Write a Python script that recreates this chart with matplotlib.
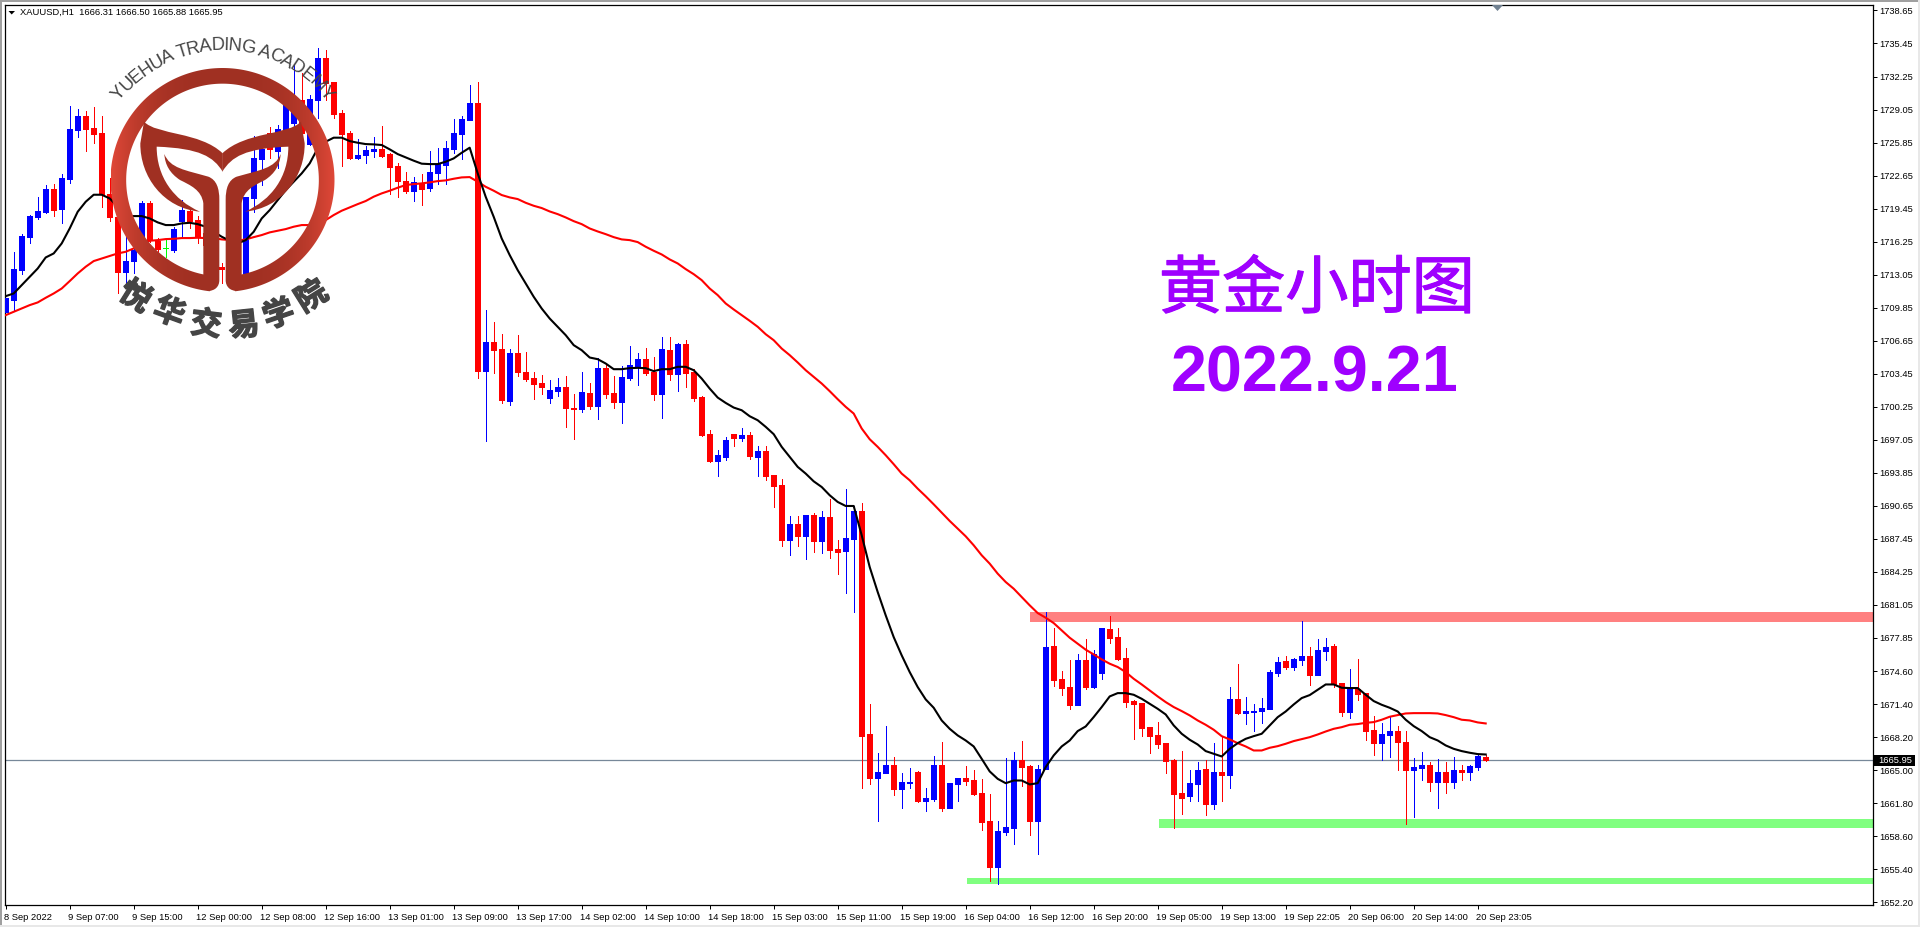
import numpy as np
import matplotlib
matplotlib.use("Agg")
import matplotlib.pyplot as plt
import matplotlib.patheffects as pe
from matplotlib.patches import PathPatch, Rectangle, Polygon
from matplotlib.path import Path
from matplotlib.textpath import TextPath
from matplotlib.font_manager import FontProperties
from matplotlib.transforms import ScaledTranslation

# XAUUSD H1 candles
opens = [
    1709.44, 1710.57, 1713.48, 1716.65, 1718.59, 1719.14, 1721.31, 1719.40, 1722.31, 1727.06,
    1728.42, 1727.26, 1726.77, 1720.82, 1718.66, 1713.32, 1714.39, 1715.42, 1720.01, 1716.33,
    1715.58, 1715.42, 1718.24, 1719.21, 1718.33, 1717.04, 1715.81, 1713.74, 1713.55, 1714.29,
    1713.16, 1720.43, 1724.25, 1726.74, 1725.06, 1727.06, 1727.71, 1729.97, 1725.70, 1729.97,
    1734.04, 1731.75, 1728.68, 1726.74, 1724.38, 1724.64, 1725.02, 1725.22, 1724.73, 1723.57,
    1722.08, 1721.18, 1721.89, 1721.40, 1722.92, 1723.67, 1725.22, 1726.67, 1728.03, 1729.68,
    1703.69, 1706.47, 1705.82, 1700.78, 1705.43, 1703.59, 1703.01, 1702.52, 1701.07, 1701.75,
    1702.13, 1700.10, 1700.00, 1701.55, 1700.29, 1703.98, 1701.55, 1700.68, 1703.01, 1704.17,
    1704.85, 1703.59, 1701.46, 1705.72, 1703.40, 1706.30, 1703.59, 1701.16, 1697.58, 1694.96,
    1695.35, 1697.58, 1697.19, 1697.48, 1695.35, 1695.93, 1693.60, 1692.63, 1687.29, 1688.84,
    1687.68, 1689.72, 1687.19, 1689.52, 1686.42, 1686.22, 1687.39, 1690.10, 1668.47, 1664.30,
    1664.69, 1665.56, 1663.14, 1663.72, 1664.79, 1662.07, 1662.17, 1665.47, 1661.39, 1663.63,
    1664.30, 1664.01, 1662.75, 1660.04, 1655.58, 1658.97, 1659.45, 1665.95, 1665.37, 1660.13,
    1665.08, 1677.01, 1673.81, 1673.03, 1671.29, 1675.65, 1673.03, 1674.39, 1678.66, 1677.88,
    1675.85, 1671.68, 1671.48, 1669.15, 1668.38, 1667.60, 1665.95, 1662.75, 1662.46, 1663.63,
    1665.08, 1661.78, 1664.88, 1664.50, 1671.87, 1670.51, 1670.64, 1670.70, 1670.90, 1674.39,
    1675.55, 1674.97, 1675.65, 1676.04, 1674.20, 1676.52, 1677.01, 1673.42, 1670.61, 1672.84,
    1672.45, 1668.86, 1667.60, 1668.38, 1668.76, 1667.79, 1664.98, 1665.18, 1665.47, 1663.82,
    1664.88, 1663.82, 1664.98, 1664.79, 1665.27, 1666.31,
]
highs = [
    1710.74, 1715.20, 1716.97, 1718.82, 1720.53, 1721.69, 1721.79, 1722.79, 1729.39, 1729.10,
    1728.94, 1729.29, 1728.42, 1722.37, 1718.66, 1717.04, 1715.75, 1720.18, 1720.18, 1716.55,
    1716.39, 1717.69, 1720.27, 1719.30, 1718.72, 1717.36, 1716.07, 1714.13, 1716.39, 1717.04,
    1720.60, 1726.48, 1726.09, 1727.38, 1727.55, 1729.97, 1733.37, 1732.56, 1730.46, 1734.98,
    1734.82, 1731.75, 1729.00, 1726.96, 1726.16, 1725.51, 1726.41, 1727.45, 1724.80, 1723.83,
    1722.99, 1722.54, 1722.79, 1725.06, 1725.28, 1725.99, 1728.10, 1728.42, 1731.43, 1731.72,
    1709.60, 1708.44, 1707.27, 1705.82, 1707.18, 1705.53, 1703.59, 1703.30, 1702.81, 1703.01,
    1703.20, 1701.46, 1703.59, 1702.52, 1705.01, 1704.37, 1703.20, 1704.17, 1706.11, 1705.43,
    1705.92, 1705.04, 1706.98, 1706.98, 1706.40, 1706.69, 1703.88, 1701.26, 1697.96, 1696.02,
    1697.28, 1697.58, 1698.16, 1697.77, 1696.41, 1696.41, 1693.60, 1693.21, 1689.62, 1689.62,
    1689.72, 1689.91, 1690.10, 1691.27, 1687.29, 1692.24, 1690.59, 1690.88, 1671.38, 1666.63,
    1669.25, 1666.24, 1664.69, 1665.18, 1664.89, 1663.24, 1666.34, 1667.70, 1663.72, 1664.30,
    1665.37, 1664.98, 1664.11, 1662.66, 1660.04, 1666.15, 1666.73, 1667.80, 1665.47, 1665.56,
    1680.31, 1678.76, 1674.58, 1675.65, 1676.23, 1677.69, 1676.62, 1678.76, 1679.92, 1678.76,
    1676.82, 1671.77, 1671.48, 1669.15, 1669.64, 1667.60, 1666.05, 1666.83, 1664.98, 1665.76,
    1665.95, 1667.60, 1668.18, 1673.03, 1675.26, 1672.06, 1671.38, 1671.96, 1674.68, 1675.94,
    1676.04, 1675.84, 1679.43, 1676.91, 1677.69, 1677.78, 1677.20, 1673.42, 1674.78, 1675.75,
    1672.45, 1670.22, 1669.54, 1670.12, 1669.25, 1668.76, 1666.15, 1666.82, 1665.76, 1666.05,
    1665.76, 1666.24, 1665.56, 1665.47, 1666.44, 1666.50,
]
lows = [
    1709.44, 1709.60, 1713.09, 1716.13, 1718.40, 1718.98, 1718.72, 1718.07, 1721.95, 1726.41,
    1725.06, 1725.77, 1719.63, 1718.27, 1711.28, 1712.13, 1713.16, 1715.10, 1716.23, 1715.10,
    1714.71, 1715.26, 1716.65, 1717.52, 1716.13, 1715.42, 1713.81, 1712.19, 1712.84, 1713.81,
    1713.00, 1719.14, 1721.73, 1724.31, 1723.34, 1726.90, 1727.38, 1725.77, 1725.61, 1728.26,
    1729.97, 1728.19, 1723.60, 1724.22, 1724.28, 1723.89, 1724.47, 1724.41, 1720.82, 1720.60,
    1720.92, 1720.18, 1719.79, 1721.18, 1721.82, 1721.79, 1724.86, 1724.22, 1728.03, 1703.04,
    1696.93, 1703.52, 1700.61, 1700.42, 1703.20, 1702.75, 1700.97, 1701.46, 1700.61, 1701.29,
    1698.29, 1697.12, 1699.74, 1700.03, 1699.06, 1701.10, 1700.13, 1698.67, 1702.81, 1702.33,
    1703.30, 1700.87, 1699.16, 1702.81, 1701.78, 1702.13, 1700.78, 1697.38, 1694.86, 1693.50,
    1695.05, 1696.41, 1696.90, 1695.15, 1693.50, 1693.11, 1690.52, 1686.74, 1685.84, 1686.71,
    1685.45, 1686.13, 1686.03, 1685.54, 1683.99, 1682.15, 1680.31, 1663.33, 1663.63, 1660.13,
    1664.69, 1662.56, 1661.30, 1663.24, 1661.88, 1661.10, 1662.07, 1661.01, 1661.39, 1662.07,
    1663.53, 1662.56, 1659.26, 1654.22, 1654.02, 1658.68, 1657.90, 1663.43, 1658.68, 1656.93,
    1665.08, 1673.13, 1672.26, 1670.90, 1671.29, 1672.84, 1672.94, 1673.81, 1677.30, 1675.65,
    1671.09, 1667.99, 1668.28, 1666.63, 1667.12, 1664.69, 1659.45, 1660.81, 1662.07, 1661.98,
    1660.62, 1661.20, 1662.07, 1663.24, 1670.41, 1669.44, 1668.76, 1669.54, 1670.90, 1674.10,
    1674.78, 1674.68, 1675.17, 1673.23, 1674.20, 1675.65, 1673.03, 1670.22, 1670.03, 1671.77,
    1667.89, 1666.44, 1665.95, 1666.24, 1664.98, 1659.84, 1660.52, 1664.01, 1663.04, 1661.39,
    1662.75, 1663.33, 1664.01, 1664.01, 1664.98, 1665.88,
]
closes = [
    1710.74, 1713.55, 1716.78, 1718.72, 1719.21, 1721.31, 1719.30, 1722.41, 1727.13, 1728.42,
    1727.13, 1726.67, 1720.82, 1718.66, 1713.32, 1714.36, 1715.42, 1720.01, 1716.39, 1715.49,
    1715.58, 1717.46, 1719.30, 1718.27, 1716.81, 1715.91, 1714.45, 1713.55, 1714.45, 1716.07,
    1720.60, 1724.31, 1725.19, 1725.19, 1727.16, 1729.49, 1729.97, 1726.74, 1730.07, 1734.04,
    1731.65, 1728.61, 1726.67, 1724.38, 1724.64, 1725.12, 1725.22, 1724.54, 1723.50, 1722.15,
    1721.18, 1721.99, 1721.34, 1722.99, 1723.76, 1725.28, 1726.74, 1728.10, 1729.65, 1703.69,
    1706.47, 1705.72, 1700.87, 1705.43, 1703.59, 1702.91, 1702.43, 1702.13, 1701.84, 1702.13,
    1700.10, 1700.00, 1701.65, 1700.29, 1703.98, 1701.46, 1700.68, 1703.10, 1704.27, 1704.85,
    1703.49, 1701.46, 1705.82, 1703.40, 1706.30, 1703.49, 1701.07, 1697.48, 1694.96, 1695.54,
    1696.99, 1697.19, 1697.48, 1695.44, 1695.93, 1693.50, 1692.53, 1687.29, 1688.84, 1687.68,
    1689.72, 1687.19, 1689.52, 1686.32, 1686.13, 1687.48, 1690.10, 1668.28, 1664.30, 1664.79,
    1665.56, 1663.14, 1663.82, 1663.82, 1662.07, 1662.27, 1665.56, 1661.39, 1663.72, 1664.30,
    1663.92, 1662.66, 1659.94, 1655.58, 1659.07, 1659.55, 1665.95, 1665.27, 1660.13, 1665.08,
    1676.91, 1673.71, 1672.94, 1671.29, 1675.65, 1673.03, 1676.23, 1678.76, 1677.79, 1675.75,
    1671.58, 1671.38, 1669.06, 1668.28, 1667.50, 1665.86, 1662.66, 1662.36, 1663.72, 1664.98,
    1661.78, 1664.79, 1664.50, 1671.87, 1670.51, 1670.70, 1670.70, 1671.00, 1674.49, 1675.46,
    1674.97, 1675.75, 1676.04, 1674.20, 1676.62, 1676.91, 1673.32, 1670.61, 1672.93, 1672.35,
    1668.76, 1667.60, 1668.47, 1668.76, 1667.70, 1664.98, 1665.27, 1665.47, 1663.82, 1664.88,
    1663.82, 1664.98, 1664.79, 1665.37, 1666.34, 1665.95,
]

# Moving averages, one value per candle
ma_black = [
    1710.96, 1711.22, 1712.03, 1712.84, 1713.64, 1714.71, 1715.10, 1716.07, 1717.52, 1719.14,
    1720.11, 1720.79, 1720.79, 1720.43, 1719.63, 1718.66, 1718.72, 1718.72, 1718.49, 1718.11,
    1717.85, 1717.85, 1718.01, 1718.07, 1717.94, 1717.69, 1717.20, 1716.72, 1716.33, 1716.07,
    1716.39, 1717.20, 1718.49, 1719.30, 1720.27, 1721.24, 1722.05, 1722.86, 1723.83, 1725.28,
    1725.93, 1726.32, 1726.32, 1725.99, 1725.83, 1725.70, 1725.67, 1725.61, 1725.19, 1724.73,
    1724.41, 1724.09, 1723.80, 1723.76, 1723.76, 1723.99, 1724.31, 1724.86, 1725.35, 1722.86,
    1720.59, 1718.65, 1716.55, 1714.94, 1713.48, 1712.19, 1710.90, 1709.76, 1708.79, 1707.99,
    1707.18, 1706.21, 1705.72, 1705.01, 1704.85, 1704.43, 1703.88, 1703.88, 1703.98, 1704.01,
    1703.98, 1703.69, 1703.88, 1703.88, 1704.11, 1704.11, 1703.78, 1702.97, 1702.00, 1701.13,
    1700.61, 1700.16, 1699.90, 1699.32, 1698.93, 1698.29, 1697.58, 1696.35, 1695.38, 1694.41,
    1693.76, 1693.01, 1692.46, 1691.66, 1691.01, 1690.62, 1690.62, 1687.78, 1684.70, 1682.28,
    1680.02, 1677.91, 1676.14, 1674.52, 1673.07, 1671.87, 1671.06, 1669.83, 1669.02, 1668.38,
    1667.89, 1667.31, 1666.11, 1664.89, 1664.17, 1663.75, 1664.01, 1664.01, 1663.63, 1663.75,
    1665.31, 1666.44, 1667.31, 1667.89, 1668.80, 1669.25, 1670.16, 1671.13, 1672.16, 1672.48,
    1672.48, 1672.32, 1671.93, 1671.45, 1670.96, 1670.41, 1669.35, 1668.54, 1667.96, 1667.50,
    1666.86, 1666.60, 1666.34, 1667.08, 1667.63, 1668.05, 1668.31, 1668.54, 1669.35, 1670.15,
    1670.70, 1671.38, 1672.00, 1672.29, 1672.81, 1673.32, 1673.32, 1673.00, 1672.97, 1672.97,
    1672.32, 1671.71, 1671.35, 1671.06, 1670.70, 1669.90, 1669.28, 1668.80, 1668.21, 1667.89,
    1667.41, 1667.08, 1666.86, 1666.70, 1666.57, 1666.53,
]
ma_red = [
    1709.12, 1709.44, 1709.76, 1710.09, 1710.35, 1710.80, 1711.22, 1711.70, 1712.42, 1713.16,
    1713.81, 1714.36, 1714.61, 1714.87, 1715.10, 1715.26, 1715.58, 1715.91, 1716.33, 1716.39,
    1716.49, 1716.52, 1716.59, 1716.59, 1716.62, 1716.59, 1716.59, 1716.46, 1716.39, 1716.33,
    1716.46, 1716.68, 1716.88, 1717.14, 1717.30, 1717.46, 1717.69, 1717.85, 1717.85, 1718.01,
    1718.33, 1718.82, 1719.24, 1719.56, 1719.88, 1720.18, 1720.60, 1720.92, 1721.18, 1721.47,
    1721.73, 1721.82, 1721.89, 1721.99, 1722.11, 1722.18, 1722.34, 1722.47, 1722.50, 1722.05,
    1721.56, 1721.18, 1720.76, 1720.53, 1720.37, 1720.01, 1719.72, 1719.50, 1719.17, 1718.91,
    1718.59, 1718.23, 1717.94, 1717.52, 1717.23, 1716.97, 1716.68, 1716.46, 1716.39, 1716.20,
    1715.75, 1715.36, 1715.00, 1714.52, 1714.13, 1713.58, 1713.09, 1712.51, 1711.70, 1711.06,
    1710.25, 1709.67, 1709.12, 1708.57, 1707.99, 1707.27, 1706.69, 1705.88, 1705.24, 1704.53,
    1703.78, 1703.14, 1702.49, 1701.75, 1700.97, 1700.23, 1699.58, 1698.13, 1697.09, 1696.35,
    1695.54, 1694.67, 1693.76, 1693.11, 1692.30, 1691.56, 1690.78, 1689.97, 1689.17, 1688.42,
    1687.68, 1686.81, 1685.84, 1685.03, 1684.06, 1683.25, 1682.60, 1681.79, 1680.99, 1680.24,
    1679.79, 1679.27, 1678.56, 1677.85, 1677.27, 1676.69, 1676.23, 1675.75, 1675.33, 1675.01,
    1674.52, 1673.87, 1673.32, 1672.74, 1672.16, 1671.61, 1671.13, 1670.74, 1670.32, 1669.83,
    1669.41, 1668.93, 1668.31, 1667.99, 1667.63, 1667.31, 1666.92, 1666.92, 1667.18, 1667.34,
    1667.57, 1667.83, 1668.02, 1668.21, 1668.47, 1668.76, 1669.02, 1669.18, 1669.41, 1669.48,
    1669.60, 1669.67, 1669.90, 1670.19, 1670.35, 1670.51, 1670.54, 1670.54, 1670.54, 1670.51,
    1670.35, 1670.15, 1669.90, 1669.83, 1669.64, 1669.54,
]

price_ticks = [1738.65, 1735.45, 1732.25, 1729.05, 1725.85, 1722.65, 1719.45, 1716.25, 1713.05,
               1709.85, 1706.65, 1703.45, 1700.25, 1697.05, 1693.85, 1690.65, 1687.45, 1684.25,
               1681.05, 1677.85, 1674.60, 1671.40, 1668.20, 1665.00, 1661.80, 1658.60, 1655.40,
               1652.20]
time_labels = ["8 Sep 2022", "9 Sep 07:00", "9 Sep 15:00", "12 Sep 00:00", "12 Sep 08:00",
               "12 Sep 16:00", "13 Sep 01:00", "13 Sep 09:00", "13 Sep 17:00", "14 Sep 02:00",
               "14 Sep 10:00", "14 Sep 18:00", "15 Sep 03:00", "15 Sep 11:00", "15 Sep 19:00",
               "16 Sep 04:00", "16 Sep 12:00", "16 Sep 20:00", "19 Sep 05:00", "19 Sep 13:00",
               "19 Sep 22:05", "20 Sep 06:00", "20 Sep 14:00", "20 Sep 23:05"]
last_price = 1665.95

# support / resistance bands: first candle, price low, price high
band_start = [128, 144.1, 120.2]
band_low = [1679.34, 1659.36, 1654.02]
band_high = [1680.31, 1660.23, 1654.60]
band_color = ["#FF8080", "#80FF80", "#80FF80"]

W, H = 1920, 927
UI_FONT = "Liberation Sans"
UI_SIZE = 6.75
CJK = ["Noto Sans CJK SC", "DejaVu Sans"]
TITLE_COLOR = "#9F00FF"
LOGO_DARK = "#A03022"
LOGO_TEXT = "#454545"

fig = plt.figure(figsize=(W / 100, H / 100), dpi=100, facecolor="white")

# main chart, one candle is 8 px wide
ax = fig.add_axes([4.5 / W, 1 - 904.5 / H, (1872.5 - 4.5) / W, (904.5 - 4.5) / H])
ax.set_xlim(-0.15, 233.35)
ax.set_ylim(1651.99, 1739.23)

x = np.arange(len(opens))
o = np.array(opens)
c = np.array(closes)
colors = np.where(c > o, "#0000FF", "#FF0000").tolist()
colors = ["#00FF00" if a == b else col for a, b, col in zip(opens, closes, colors)]

for s, lo, hi, col in zip(band_start, band_low, band_high, band_color):
    ax.add_patch(Rectangle((s, lo), 240 - s, hi - lo, color=col, lw=0, zorder=1))

ax.axhline(last_price, color="#778899", lw=0.9, zorder=2)
ax.vlines(x, lows, highs, colors=colors, lw=0.55, antialiased=False, zorder=3)
ax.bar(x, np.abs(c - o), bottom=np.minimum(c, o), width=0.56, color=colors, edgecolor=colors,
       lw=0.5, antialiased=False, zorder=4)
ax.plot(x, ma_red, color="#FF0000", lw=1.5, zorder=5)
ax.plot(x, ma_black, color="#000000", lw=1.5, zorder=6)

for side in ax.spines.values():
    side.set_linewidth(0.9)

ax.yaxis.tick_right()
ax.set_yticks(price_ticks)
ax.set_yticklabels(["%.2f" % p for p in price_ticks], fontfamily=UI_FONT, fontsize=UI_SIZE)
ax.tick_params(axis="y", length=3, width=0.72, pad=2, colors="#000000")
ax.set_xticks(x[::8])
ax.set_xticklabels(time_labels, fontfamily=UI_FONT, fontsize=UI_SIZE, ha="left")
ax.tick_params(axis="x", length=3, width=0.72, pad=3)
shift = ScaledTranslation(-1.5 / 100, 0, fig.dpi_scale_trans)
for lab in ax.get_xticklabels():
    lab.set_transform(lab.get_transform() + shift)

# everything below is placed in picture pixels
ov = fig.add_axes([0, 0, 1, 1], facecolor="none")
ov.set_axis_off()


def poly(points, color, z=10):
    ov.add_patch(Polygon(points, closed=True, facecolor=color, edgecolor="none", zorder=z))


# window frame
ov.add_patch(Rectangle((0, 0), W, 2, color="#A0A0A0", lw=0))
ov.add_patch(Rectangle((0, 0), 1.5, H, color="#A0A0A0", lw=0))
ov.add_patch(Rectangle((0, H - 2), W, 2, color="#E8E8E8", lw=0))
ov.add_patch(Rectangle((W - 2, 0), 2, H, color="#E8E8E8", lw=0))

# header and chart shift marker
poly([(8.5, 11), (15, 11), (11.7, 14.5)], "#000000")
ov.text(19.5, 12.7, "XAUUSD,H1  1666.31 1666.50 1665.88 1665.95", fontfamily=UI_FONT,
        fontsize=UI_SIZE, va="center", ha="left")
poly([(1492, 5), (1503, 5), (1497.5, 11)], "#708090")

# last price box
ov.add_patch(Rectangle((1874, 755), 41, 11, color="#000000", lw=0, zorder=11))
ov.text(1878, 760.7, "%.2f" % last_price, color="white", fontfamily=UI_FONT, fontsize=UI_SIZE,
        va="center", ha="left", zorder=12)

# title
ov.text(1317, 290, "黄金小时图", color=TITLE_COLOR, fontfamily=CJK, fontsize=45.5,
        fontweight="medium", ha="center", va="center",
        path_effects=[pe.withStroke(linewidth=0.8, foreground=TITLE_COLOR)])
ov.text(1315, 391, "2022.9.21", color=TITLE_COLOR, fontfamily=UI_FONT, fontsize=46.5,
        fontweight="bold", ha="center", va="baseline")

# logo, drawn in a 3x grid then scaled down
CX, CY = 667.5, 540.0
R_OUT, R_IN = 336.0, 289.0
MOVE, LINE, C4, CLOSE = Path.MOVETO, Path.LINETO, Path.CURVE4, Path.CLOSEPOLY


def tail_path(mirror):
    verts = [(432, 365),
             (470, 405), (600, 395), (668, 460),
             (668, 515),
             (640, 470), (600, 445), (470, 440),
             (470, 530), (520, 600), (600, 635),
             (490, 625), (420, 530), (421, 430),
             (432, 365)]
    codes = [MOVE, C4, C4, C4, LINE, C4, C4, C4, C4, C4, C4, C4, C4, C4, CLOSE]
    leaf = [(493, 462),
            (510, 505), (555, 510), (625, 530),
            (650, 540), (658, 565), (658, 600),
            (658, 840),
            (658, 860), (645, 872), (625, 873),
            (610, 850), (610, 610),
            (605, 570), (570, 555), (540, 540),
            (510, 520), (495, 495), (493, 462),
            (493, 462)]
    leaf_codes = [MOVE, C4, C4, C4, C4, C4, C4, LINE, C4, C4, C4, LINE, LINE,
                  C4, C4, C4, C4, C4, C4, CLOSE]
    pts = np.array(verts + leaf, dtype=float)
    if mirror:
        pts[:, 0] = 2 * CX - pts[:, 0]
    return Path(pts / 3.0, codes + leaf_codes)


theta = np.radians(np.linspace(-83.5, 263.5, 240))
outer = np.c_[CX + R_OUT * np.cos(theta), CY - R_OUT * np.sin(theta)]
inner = np.c_[CX + R_IN * np.cos(theta[::-1]), CY - R_IN * np.sin(theta[::-1])]
ring = Polygon(np.vstack([outer, inner]) / 3.0, closed=True, facecolor="none", edgecolor="none",
               transform=ov.transData, zorder=10)
ov.add_patch(ring)
shade = np.abs(np.linspace(-1, 1, 256)) ** 3
r0, g0, b0 = np.array([0xA0, 0x30, 0x22]) / 255
r1, g1, b1 = np.array([0xE0, 0x48, 0x38]) / 255
grad = np.dstack([r0 + (r1 - r0) * shade, g0 + (g1 - g0) * shade, b0 + (b1 - b0) * shade])
im = ov.imshow(grad, extent=[(CX - R_OUT) / 3, (CX + R_OUT) / 3, (CY + R_OUT) / 3, (CY - R_OUT) / 3],
               aspect="auto", zorder=10)
im.set_clip_path(ring)
ov.add_patch(PathPatch(tail_path(False), facecolor=LOGO_DARK, edgecolor="none", zorder=11))
ov.add_patch(PathPatch(tail_path(True), facecolor=LOGO_DARK, edgecolor="none", zorder=11))

# curved school name above the ring
arc_text = "YUEHUA TRADING ACADEMY"
arc_fp = FontProperties(family=UI_FONT, size=13.2)
adv = []
for i in range(len(arc_text)):
    pre = TextPath((0, 0), arc_text[:i + 1] + "|", prop=arc_fp).get_extents().x1
    base = TextPath((0, 0), "|", prop=arc_fp).get_extents().x1
    adv.append(pre - base)
adv = np.array(adv)
left = np.r_[0, adv[:-1]]
mid = (left + adv) / 2
span = np.radians(105)
angles = (mid / adv[-1] - 0.5) * span
R_TEXT = 130.0
for ch, a in zip(arc_text, angles):
    ov.text(CX / 3 + R_TEXT * np.sin(a), CY / 3 - R_TEXT * np.cos(a), ch, fontfamily=UI_FONT,
            fontsize=13.2, color=LOGO_TEXT, rotation=-np.degrees(a), rotation_mode="anchor",
            ha="center", va="baseline", zorder=12)

cn_chars = "悦华交易学院"
cn_xy = [(135, 297), (169, 313), (206, 325), (244, 326), (279, 315), (312, 297)]
cn_rot = [-32, -20, -7, 6, 19, 32]
for ch, (px, py), rot in zip(cn_chars, cn_xy, cn_rot):
    ov.text(px, py, ch, fontfamily=CJK, fontsize=22.5, fontweight="bold", color=LOGO_TEXT,
            rotation=rot, rotation_mode="anchor", ha="center", va="center", zorder=12,
            path_effects=[pe.withStroke(linewidth=1.0, foreground=LOGO_TEXT)])

ov.set_xlim(0, W)
ov.set_ylim(H, 0)

fig.savefig("out.png", dpi=100)
